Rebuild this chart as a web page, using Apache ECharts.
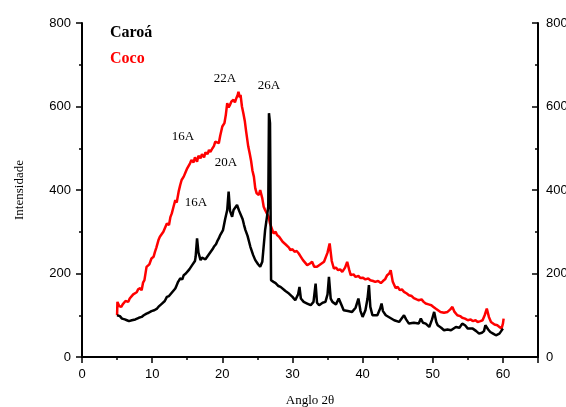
<!DOCTYPE html>
<html>
<head>
<meta charset="utf-8">
<script src="https://cdn.jsdelivr.net/npm/echarts@6/dist/echarts.min.js"></script>
<style>
  html, body { margin: 0; padding: 0; background: #fff; }
  #chart { width: 566px; height: 407px; }
</style>
</head>
<body>
<div id="chart"></div>
<script>
  // Coco (red) - angle 2theta and intensity
  var cocoAngle = [5.0, 5.05, 5.3, 5.6, 5.8, 6.0, 6.2, 6.4, 6.6, 6.8, 7.0, 7.3, 7.5, 7.8, 8.0, 8.3, 8.5, 8.7, 8.9, 9.2,
    9.4, 9.6, 9.9, 10.2, 10.4, 10.6, 10.9, 11.1, 11.3, 11.6, 11.9, 12.1, 12.4, 12.6, 12.8, 13.0, 13.3, 13.5, 13.8, 14.0,
    14.2, 14.5, 14.7, 15.0, 15.2, 15.4, 15.6, 15.9, 16.1, 16.4, 16.6, 16.9, 17.1, 17.4, 17.6, 17.9, 18.1, 18.3, 18.6, 18.8,
    19.0, 19.2, 19.5, 19.7, 20.0, 20.2, 20.3, 20.5, 20.7, 20.9, 21.1, 21.3, 21.6, 21.8, 22.0, 22.2, 22.3, 22.5, 22.6, 22.8,
    23.0, 23.2, 23.4, 23.7, 23.9, 24.1, 24.3, 24.5, 24.7, 24.9, 25.2, 25.4, 25.7, 25.9, 26.1, 26.4, 26.6, 26.8, 27.0, 27.3,
    27.6, 27.8, 28.1, 28.3, 28.6, 28.8, 29.0, 29.2, 29.5, 29.7, 30.0, 30.3, 30.6, 30.9, 31.2, 31.5, 31.8, 32.1, 32.5, 32.8,
    33.1, 33.5, 34.0, 34.5, 35.0, 35.3, 35.6, 35.9, 36.2, 36.5, 36.8, 37.1, 37.5, 37.8, 38.1, 38.3, 38.7, 39.0, 39.4, 39.7,
    40.0, 40.4, 40.8, 41.1, 41.5, 41.8, 42.2, 42.6, 42.9, 43.2, 43.5, 43.8, 44.0, 44.3, 44.7, 45.0, 45.3, 45.6, 45.9, 46.3,
    46.6, 47.0, 47.3, 47.7, 48.0, 48.4, 48.7, 49.0, 49.4, 49.8, 50.1, 50.4, 50.6, 51.1, 51.6, 52.1, 52.5, 52.8, 53.1, 53.5,
    53.9, 54.2, 54.6, 55.0, 55.4, 55.7, 56.1, 56.4, 56.8, 57.1, 57.4, 57.7, 58.0, 58.3, 58.8, 59.2, 59.5, 59.8, 60.0, 60.1]
  var cocoInt = [100, 132, 122, 120, 126, 128, 134, 137, 132, 140, 138, 150, 146, 155, 162, 165, 160, 178, 184, 216,
    212, 222, 236, 240, 252, 262, 280, 288, 284, 300, 312, 320, 316, 335, 344, 357, 376, 370, 398, 412,
    424, 432, 440, 452, 448, 464, 472, 466, 478, 468, 482, 476, 486, 478, 490, 486, 496, 491, 500, 505,
    516, 520, 512, 530, 552, 548, 560, 580, 608, 598, 604, 612, 616, 610, 620, 628, 635, 622, 628, 600,
    584, 566, 540, 504, 488, 470, 446, 432, 404, 392, 388, 400, 380, 360, 352, 342, 336, 320, 316, 296,
    300, 292, 288, 284, 276, 280, 270, 268, 262, 256, 258, 252, 254, 248, 240, 232, 226, 220, 224, 228,
    216, 216, 222, 228, 250, 272, 230, 212, 214, 208, 210, 204, 214, 228, 208, 196, 198, 192, 194, 189,
    190, 186, 188, 184, 182, 180, 182, 177, 182, 186, 196, 200, 208, 180, 165, 168, 160, 162, 156, 152,
    148, 146, 141, 138, 136, 138, 132, 128, 126, 124, 120, 116, 114, 108, 106, 108, 114, 120, 108, 100,
    98, 94, 92, 88, 90, 86, 88, 84, 86, 88, 100, 116, 96, 84, 78, 76, 72, 68, 80, 92]

  // Caroa (black)
  var caroaAngle = [5.0, 5.2, 5.4, 5.7, 5.9, 6.1, 6.4, 6.7, 6.9, 7.1, 7.3, 7.6, 7.8, 8.1, 8.5, 8.8, 9.2, 9.5, 9.9, 10.3,
    10.7, 11.0, 11.4, 11.8, 12.1, 12.4, 12.7, 13.0, 13.3, 13.5, 13.7, 14.0, 14.3, 14.5, 14.8, 15.0, 15.3, 15.5, 15.7, 15.9,
    16.1, 16.2, 16.4, 16.6, 16.9, 17.1, 17.3, 17.6, 17.8, 18.1, 18.3, 18.6, 18.8, 19.1, 19.3, 19.5, 19.7, 19.9, 20.1, 20.4,
    20.7, 20.9, 21.1, 21.4, 21.6, 21.8, 22.1, 22.4, 22.6, 22.9, 23.1, 23.3, 23.6, 24.0, 24.4, 24.7, 25.1, 25.4, 25.7, 26.1,
    26.4, 26.55, 26.65, 26.8, 26.95, 27.1, 27.3, 27.6, 28.0, 28.3, 28.5, 29.0, 29.5, 30.0, 30.4, 30.8, 31.0, 31.2, 31.6, 32.1,
    32.6, 33.0, 33.3, 33.5, 33.8, 34.3, 34.7, 35.0, 35.2, 35.45, 35.7, 36.2, 36.6, 36.9, 37.3, 37.9, 38.5, 39.0, 39.4, 39.7,
    40.0, 40.4, 40.7, 40.9, 41.1, 41.4, 42.1, 42.5, 42.7, 42.9, 43.3, 43.9, 44.5, 45.2, 45.9, 46.2, 46.6, 47.3, 48.0, 48.3,
    48.6, 49.0, 49.5, 49.9, 50.2, 50.5, 50.7, 51.2, 51.6, 52.1, 52.6, 53.3, 53.8, 54.2, 54.6, 55.0, 55.7, 56.2, 56.6, 57.0,
    57.3, 57.5, 57.7, 57.9, 58.2, 58.6, 59.0, 59.5, 59.7, 60.0]
  var caroaInt = [100, 96, 98, 92, 96, 90, 88, 86, 82, 88, 86, 90, 88, 94, 96, 100, 104, 106, 110, 112,
    116, 122, 128, 134, 144, 146, 152, 158, 164, 172, 180, 188, 186, 196, 200, 204, 210, 214, 220, 224,
    230, 240, 284, 250, 232, 238, 240, 234, 236, 246, 250, 258, 264, 270, 278, 284, 292, 290, 304, 330,
    352, 396, 350, 336, 352, 356, 364, 350, 352, 330, 316, 304, 290, 264, 244, 232, 222, 216, 228, 304,
    340, 360, 584, 560, 184, 186, 180, 177, 170, 168, 164, 158, 152, 144, 136, 150, 168, 140, 132, 128,
    124, 132, 176, 130, 124, 130, 132, 150, 192, 140, 132, 126, 140, 128, 112, 110, 108, 118, 140, 110,
    96, 112, 140, 172, 120, 100, 100, 116, 128, 110, 100, 94, 88, 84, 100, 90, 80, 82, 80, 92,
    82, 80, 72, 90, 108, 84, 76, 70, 64, 66, 64, 72, 70, 80, 76, 68, 68, 62, 56, 58,
    62, 76, 80, 66, 60, 56, 52, 56, 56, 68]

  var yTicks = [0, 200, 400, 600, 800]
  var xTicks = [0, 10, 20, 30, 40, 50, 60]

  var peakLabels = [
    { text: '22A', x: 225, y: 79 },
    { text: '26A', x: 269, y: 86 },
    { text: '16A', x: 183, y: 137 },
    { text: '20A', x: 226, y: 163 },
    { text: '16A', x: 196, y: 203 }
  ]

  function zip(a, b) {
    return a.map(function (v, i) { return [v, b[i]] })
  }

  var serif = '"Liberation Serif", "DejaVu Serif", serif'
  var sans = '"Liberation Sans", Arial, sans-serif'

  var chart = echarts.init(document.getElementById('chart'))

  var yBase = {
    type: 'value',
    min: yTicks[0],
    max: yTicks[yTicks.length - 1],
    interval: 200,
    splitLine: { show: false },
    axisLine: { show: true, lineStyle: { color: '#000', width: 2 } },
    axisTick: { show: true, length: 6, lineStyle: { color: '#000', width: 1.5 } },
    minorTick: { show: true, splitNumber: 2, length: 3, lineStyle: { color: '#000', width: 1.5 } },
    axisLabel: { color: '#000', fontFamily: sans, fontSize: 13 }
  }

  chart.setOption({
    animation: false,
    grid: { left: 82, right: 28, top: 23, bottom: 50, containLabel: false, outerBoundsMode: 'none' },
    legend: {
      left: 105,
      top: 25,
      padding: 0,
      orient: 'vertical',
      icon: 'none',
      itemWidth: 0,
      itemHeight: 15,
      itemGap: 10,
      selectedMode: false,
      data: [
        { name: 'Caroá', textStyle: { color: '#000' } },
        { name: 'Coco', textStyle: { color: '#ff0000' } }
      ],
      textStyle: { fontFamily: serif, fontWeight: 'bold', fontSize: 16, padding: 0 }
    },
    xAxis: {
      type: 'value',
      min: 0,
      max: 65,
      interval: 10,
      name: 'Anglo 2θ',
      nameLocation: 'middle',
      nameGap: 37,
      nameTextStyle: { color: '#000', fontFamily: serif, fontSize: 13 },
      splitLine: { show: false },
      axisLine: { onZero: false, lineStyle: { color: '#000', width: 2 } },
      axisTick: { length: 6, lineStyle: { color: '#000', width: 1.5 } },
      minorTick: { show: true, splitNumber: 2, length: 3, lineStyle: { color: '#000', width: 1.5 } },
      axisLabel: {
        color: '#000', fontFamily: sans, fontSize: 13, margin: 11,
        formatter: function (v) { return xTicks.indexOf(v) >= 0 ? String(v) : '' }
      }
    },
    yAxis: [
      Object.assign({}, yBase, {
        position: 'left',
        name: 'Intensidade',
        nameLocation: 'middle',
        nameGap: 56,
        nameTextStyle: { color: '#000', fontFamily: serif, fontSize: 13 },
        axisLabel: Object.assign({}, yBase.axisLabel, { margin: 11 })
      }),
      Object.assign({}, yBase, {
        position: 'right',
        axisTick: Object.assign({}, yBase.axisTick, { inside: true }),
        minorTick: Object.assign({}, yBase.minorTick),
        axisLabel: Object.assign({}, yBase.axisLabel, { margin: 8 })
      })
    ],
    graphic: peakLabels.map(function (p) {
      return {
        type: 'text',
        x: p.x,
        y: p.y,
        style: {
          text: p.text,
          fill: '#000',
          font: '13px ' + serif,
          textAlign: 'center',
          textVerticalAlign: 'middle'
        }
      }
    }),
    series: [
      {
        name: 'Coco',
        type: 'line',
        showSymbol: false,
        symbol: 'none',
        lineStyle: { color: '#ff0000', width: 2.5 },
        itemStyle: { color: '#ff0000' },
        data: zip(cocoAngle, cocoInt)
      },
      {
        name: 'Caroá',
        type: 'line',
        showSymbol: false,
        symbol: 'none',
        lineStyle: { color: '#000', width: 2.5 },
        itemStyle: { color: '#000' },
        data: zip(caroaAngle, caroaInt)
      }
    ]
  })
</script>
</body>
</html>
